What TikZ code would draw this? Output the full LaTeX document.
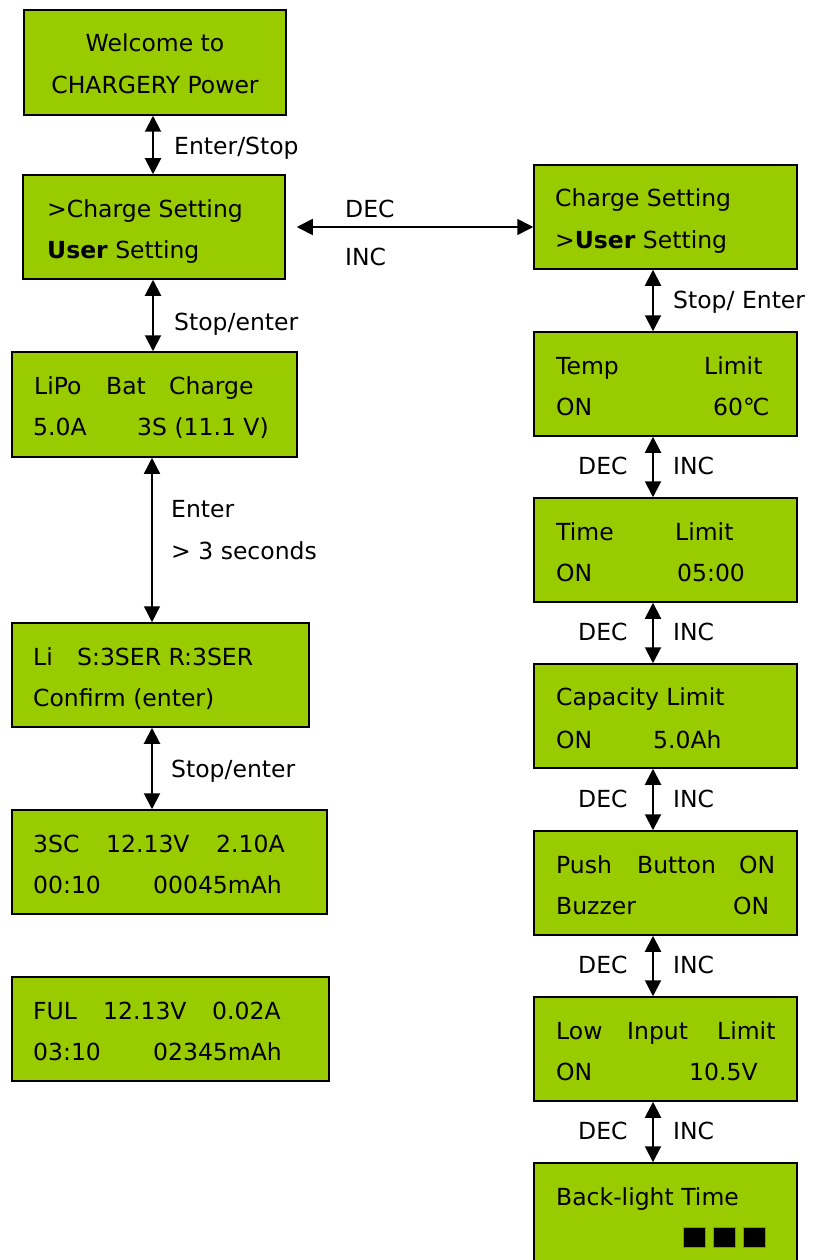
\documentclass[tikz,border=0pt]{standalone}
\usepackage{fontspec}
\setmainfont{DejaVu Sans}
\usetikzlibrary{arrows.meta}
\definecolor{lcd}{HTML}{99CC00}
\begin{document}
\begin{tikzpicture}[x=1pt,y=-1pt,
  lcdbox/.style={draw=black, line width=1.5pt, fill=lcd, inner sep=0pt},
  txt/.style={anchor=base west, inner sep=0pt, font=\fontsize{23.5}{28}\selectfont},
  ctxt/.style={anchor=base, inner sep=0pt, font=\fontsize{23.5}{28}\selectfont},
  dar/.style={line width=2pt, {Triangle[width=16pt,length=16pt]}-{Triangle[width=16pt,length=16pt]}},
  tdar/.style={line width=1.3pt, {Triangle[width=16pt,length=16pt]}-{Triangle[width=16pt,length=16pt]}},
  sq/.style={draw=gray, line width=1pt, fill=black, minimum width=22pt, minimum height=20pt, inner sep=0pt}]
\useasboundingbox (0,0) rectangle (815,1260);
\clip (0,0) rectangle (815,1260);
% left column boxes
\node[lcdbox, minimum width=262, minimum height=105] (b1) at (155,62.5) {};
\node[lcdbox, minimum width=262, minimum height=104] (b2) at (154,227) {};
\node[lcdbox, minimum width=285, minimum height=105] (b3) at (154.5,404.5) {};
\node[lcdbox, minimum width=297, minimum height=104] (b4) at (160.5,675) {};
\node[lcdbox, minimum width=315, minimum height=104] (b5) at (169.5,862) {};
\node[lcdbox, minimum width=317, minimum height=104] (b6) at (170.5,1029) {};
% right column boxes
\node[lcdbox, minimum width=263, minimum height=104] (r1) at (665.5,217) {};
\node[lcdbox, minimum width=263, minimum height=104] (r2) at (665.5,384) {};
\node[lcdbox, minimum width=263, minimum height=104] (r3) at (665.5,550) {};
\node[lcdbox, minimum width=263, minimum height=104] (r4) at (665.5,716) {};
\node[lcdbox, minimum width=263, minimum height=104] (r5) at (665.5,883) {};
\node[lcdbox, minimum width=263, minimum height=104] (r6) at (665.5,1049) {};
\node[lcdbox, minimum width=263, minimum height=130] (r7) at (665.5,1228) {};
% texts left
\node[ctxt] (t1a) at (155,52) {Welcome to};
\node[ctxt] (t1b) at (155,94) {CHARGERY Power};
\node[txt] (t2a) at (47,217) {>Charge Setting};
\node[txt] (t2b) at (47,258) {\textbf{User} Setting};
\node[txt] (t3a) at (34,394) {LiPo};
\node[txt] (t3b) at (106,394) {Bat};
\node[txt] (t3c) at (169,394) {Charge};
\node[txt] (t3d) at (33,435) {5.0A};
\node[txt] (t3e) at (137,435) {3S (11.1 V)};
\node[txt] (t4a) at (33,665) {Li};
\node[txt] (t4b) at (77,665) {S:3SER R:3SER};
\node[txt] (t4c) at (33,706) {Confirm (enter)};
\node[txt] (t5a) at (33,852) {3SC};
\node[txt] (t5b) at (106,852) {12.13V};
\node[txt] (t5c) at (216,852) {2.10A};
\node[txt] (t5d) at (33,893) {00:10};
\node[txt] (t5e) at (153,893) {00045mAh};
\node[txt] (t6a) at (33,1019) {FUL};
\node[txt] (t6b) at (103,1019) {12.13V};
\node[txt] (t6c) at (212,1019) {0.02A};
\node[txt] (t6d) at (33,1060) {03:10};
\node[txt] (t6e) at (153,1060) {02345mAh};
% texts right
\node[txt] (u1a) at (555,207) {Charge Setting};
\node[txt] (u1b) at (555,248) {>\textbf{User} Setting};
\node[txt] (u2a) at (556,374) {Temp};
\node[txt] (u2b) at (704,374) {Limit};
\node[txt] (u2c) at (556,415) {ON};
\node[txt] (u2d) at (713,415) {60℃};
\node[txt] (u3a) at (556,540) {Time};
\node[txt] (u3b) at (675,540) {Limit};
\node[txt] (u3c) at (556,581) {ON};
\node[txt] (u3d) at (677,581) {05:00};
\node[txt] (u4a) at (556,705) {Capacity Limit};
\node[txt] (u4b) at (556,748) {ON};
\node[txt] (u4c) at (653,748) {5.0Ah};
\node[txt] (u5a) at (556,873) {Push};
\node[txt] (u5b) at (637,873) {Button};
\node[txt] (u5c) at (739,873) {ON};
\node[txt] (u5d) at (556,914) {Buzzer};
\node[txt] (u5e) at (733,914) {ON};
\node[txt] (u6a) at (556,1039) {Low};
\node[txt] (u6b) at (627,1039) {Input};
\node[txt] (u6c) at (717,1039) {Limit};
\node[txt] (u6d) at (556,1080) {ON};
\node[txt] (u6e) at (689,1080) {10.5V};
\node[txt] (u7a) at (556,1205) {Back-light Time};
\node[sq] (s1) at (694,1237) {};
\node[sq] (s2) at (724,1237) {};
\node[sq] (s3) at (754.5,1237) {};
% arrow x positions
\coordinate (lx) at (153,0);
\coordinate (lx2) at (152,0);
\coordinate (rx) at (653,0);
% left arrows
\draw[dar] (b1.south -| lx) -- (b2.north -| lx);
\draw[dar] (b2.south -| lx) -- (b3.north -| lx);
\draw[tdar] (b3.south -| lx2) -- (b4.north -| lx2);
\draw[dar] (b4.south -| lx2) -- (b5.north -| lx2);
% horizontal
\draw[dar, line width=1.6pt] ([xshift=11pt]b2.east) -- (b2.east -| r1.west);
% right arrows
\draw[dar] (r1.south -| rx) -- (r2.north -| rx);
\draw[dar] (r2.south -| rx) -- (r3.north -| rx);
\draw[dar] (r3.south -| rx) -- (r4.north -| rx);
\draw[dar] (r4.south -| rx) -- (r5.north -| rx);
\draw[dar] (r5.south -| rx) -- (r6.north -| rx);
\draw[dar] (r6.south -| rx) -- (r7.north -| rx);
% labels
\node[txt] (l1) at (174,155) {Enter/Stop};
\node[txt] (l2) at (174,330) {Stop/enter};
\node[txt] (l3) at (171,517) {Enter};
\node[txt] (l4) at (171,559) {> 3 seconds};
\node[txt] (l5) at (171,777) {Stop/enter};
\node[txt] (h1) at (345,217) {DEC};
\node[txt] (h2) at (345,265) {INC};
\node[txt] (l6) at (673,308) {Stop/ Enter};
\foreach \yy/\nm in {474/1, 640/2, 807/3, 973/4, 1139/5} {
  \node[txt] (d\nm) at (578,\yy) {DEC};
  \node[txt] (i\nm) at (673,\yy) {INC};
}
\end{tikzpicture}
\end{document}
